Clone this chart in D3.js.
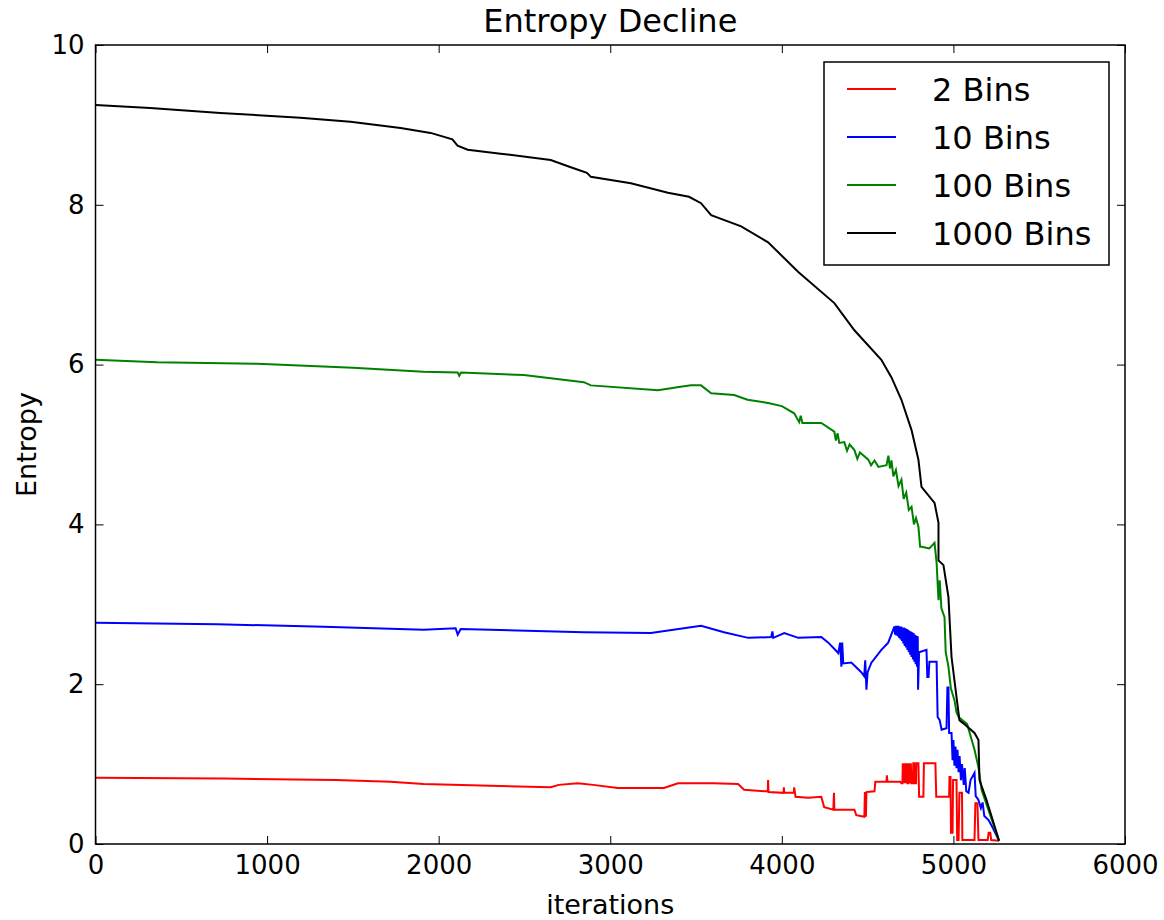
<!DOCTYPE html>
<html>
<head>
  <meta charset="utf-8">
  <title>Entropy Decline</title>
  <style>
    body { margin: 0; background: #fff; font-family: "DejaVu Sans", sans-serif; }
    .series { fill: none; stroke-width: 2; stroke-linejoin: miter; }
    .axis text { font-family: "DejaVu Sans", sans-serif; font-size: 26px; fill: #000; }
    .axis path { display: none; }
    .axis line { stroke: #000; stroke-width: 1; }
  </style>
</head>
<body>
<div id="chart"></div>
<script src="https://cdnjs.cloudflare.com/ajax/libs/d3/7.8.5/d3.min.js"></script>
<script>
// series values: [iteration, entropy]
var bins2 = [[0,0.83],[745,0.82],[1400,0.80],[1719,0.78],[1912,0.75],[2300,0.73],[2654,0.71],[2700,0.74],[2811,0.76],[2900,0.74],
  [3044,0.70],[3313,0.70],[3395,0.76],[3600,0.76],[3745,0.75],[3780,0.68],[3900,0.66],[3918,0.66],[3920,0.80],[3922,0.65],
  [4010,0.64],[4012,0.71],[4014,0.64],[4070,0.64],[4072,0.71],[4080,0.59],[4154,0.58],[4230,0.59],[4247,0.46],[4300,0.43],
  [4304,0.64],[4306,0.43],[4423,0.43],[4434,0.36],[4481,0.34],[4484,0.65],[4486,0.34],[4488,0.65],[4490,0.34],[4493,0.65],
  [4540,0.66],[4545,0.78],[4610,0.78],[4612,0.86],[4616,0.78],[4690,0.78],[4697,0.76],[4703,0.76],[4705,1.01],[4708,0.76],
  [4711,1.01],[4714,0.76],[4717,1.01],[4720,0.76],[4723,1.01],[4726,0.76],[4729,1.01],[4732,0.76],[4738,0.76],[4740,1.01],
  [4743,0.76],[4746,1.01],[4749,0.76],[4752,1.01],[4755,0.76],[4764,0.76],[4766,1.01],[4772,1.01],[4774,0.76],[4782,0.76],
  [4784,1.01],[4796,1.01],[4800,0.59],[4825,0.59],[4828,1.01],[4895,1.01],
  [4900,0.59],[4975,0.59],[4977,0.84],[4983,0.84],[4986,0.14],[4995,0.14],[4998,0.80],[5018,0.80],[5022,0.05],[5030,0.05],
  [5035,0.64],[5050,0.64],[5052,0.05],[5123,0.05],[5128,0.51],[5140,0.51],[5146,0.05],[5200,0.05],[5205,0.14],[5215,0.14],
  [5220,0.05],[5266,0.04]];

var bins10 = [[0,2.77],[709,2.75],[1330,2.72],[1912,2.68],[2099,2.70],[2111,2.62],[2128,2.69],[2846,2.65],[3237,2.64],[3529,2.73],
  [3663,2.65],[3804,2.58],[3938,2.59],[3945,2.66],[3950,2.58],[4014,2.64],[4096,2.58],[4230,2.59],[4271,2.52],[4329,2.39],
  [4340,2.52],[4347,2.22],[4352,2.52],[4358,2.26],[4405,2.27],[4463,2.15],[4480,2.10],[4486,2.30],[4493,1.93],[4500,2.15],
  [4522,2.27],[4580,2.43],[4620,2.52],[4656,2.72],[4660,2.62],[4664,2.73],[4668,2.61],[4672,2.73],[4676,2.60],[4680,2.73],
  [4684,2.58],[4688,2.72],[4692,2.56],[4696,2.72],[4700,2.54],[4704,2.71],[4708,2.51],[4712,2.71],[4716,2.48],[4720,2.70],
  [4724,2.46],[4728,2.69],[4732,2.43],[4736,2.68],[4740,2.40],[4744,2.67],[4748,2.37],[4752,2.66],[4756,2.34],[4760,2.65],
  [4764,2.31],[4768,2.64],[4772,2.28],[4776,2.62],[4780,2.25],[4784,2.61],[4788,2.22],[4792,2.60],[4794,1.93],[4800,2.40],
  [4843,2.43],[4848,2.09],[4855,2.09],[4860,2.28],[4902,2.28],[4908,1.59],[4920,1.55],[4931,1.43],[4960,1.45],[4965,1.96],
  [4971,1.96],[4975,1.39],[4989,1.39],[4995,1.05],[5000,1.30],[5006,0.98],[5012,1.22],[5018,0.95],[5024,1.18],[5030,0.90],
  [5036,1.10],[5044,0.80],[5050,1.00],[5060,0.74],[5066,0.95],[5075,0.66],[5088,0.64],[5100,0.80],[5123,0.89],[5130,0.60],
  [5146,0.55],[5160,0.45],[5170,0.52],[5180,0.35],[5205,0.30],[5230,0.20],[5266,0.04]];

var bins100 = [[0,6.06],[359,6.03],[943,6.01],[1500,5.96],[1912,5.91],[2111,5.90],[2120,5.86],[2130,5.90],[2496,5.87],[2846,5.78],
  [2887,5.74],[3278,5.68],[3400,5.72],[3471,5.74],[3529,5.74],[3588,5.64],[3722,5.62],[3800,5.56],[3920,5.52],[4000,5.48],
  [4072,5.39],[4101,5.28],[4110,5.36],[4120,5.27],[4230,5.27],[4306,5.16],[4315,5.05],[4325,5.14],[4335,5.02],[4364,5.03],
  [4380,4.92],[4395,5.00],[4423,4.93],[4440,4.82],[4455,4.90],[4504,4.81],[4520,4.74],[4540,4.80],[4563,4.72],[4610,4.74],
  [4621,4.86],[4630,4.70],[4639,4.80],[4650,4.60],[4665,4.68],[4680,4.48],[4697,4.56],[4710,4.32],[4725,4.40],[4740,4.18],
  [4756,4.22],[4770,4.00],[4782,4.08],[4796,3.97],[4806,3.72],[4814,3.72],[4860,3.70],[4890,3.77],[4902,3.52],[4913,3.05],
  [4920,3.30],[4930,2.95],[4948,2.84],[4955,2.40],[4971,2.22],[4985,1.95],[5006,1.80],[5018,1.65],[5030,1.59],[5080,1.50],
  [5123,1.18],[5146,0.96],[5164,0.68],[5200,0.45],[5266,0.04]];

var bins1000 = [[0,9.25],[318,9.21],[727,9.15],[1194,9.09],[1486,9.04],[1778,8.96],[1953,8.90],[2080,8.82],[2110,8.74],
  [2169,8.69],[2361,8.64],[2653,8.56],[2770,8.47],[2864,8.40],[2887,8.35],[3120,8.27],[3336,8.15],[3459,8.10],[3529,8.02],
  [3588,7.87],[3763,7.73],[3920,7.53],[4096,7.16],[4306,6.77],[4423,6.43],[4580,6.06],[4639,5.84],[4697,5.56],[4756,5.18],
  [4796,4.81],[4814,4.47],[4890,4.27],[4913,4.02],[4913,3.55],[4942,3.49],[4971,3.09],[4989,2.34],[5018,1.84],[5035,1.55],
  [5058,1.51],[5123,1.39],[5146,1.30],[5152,0.80],[5193,0.55],[5266,0.04]];

var seriesNames = ["2 Bins", "10 Bins", "100 Bins", "1000 Bins"];
var seriesColors = ["#ff0000", "#0000ff", "#008000", "#000000"];
var xTicks = [0, 1000, 2000, 3000, 4000, 5000, 6000];
var yTicks = [0, 2, 4, 6, 8, 10];

var width = 1164, height = 920;
var margin = { top: 45, right: 39, bottom: 76, left: 95.5 };

var svg = d3.select("#chart").append("svg")
  .attr("width", width)
  .attr("height", height);

var x = d3.scaleLinear().domain([0, 6000]).range([margin.left, width - margin.right]);
var y = d3.scaleLinear().domain([0, 10]).range([height - margin.bottom, margin.top]);

var line = d3.line()
  .x(function (d) { return x(d[0]); })
  .y(function (d) { return y(d[1]); });

// lines, drawn in matplotlib order
var allSeries = [bins2, bins10, bins100, bins1000];
svg.append("g").selectAll("path")
  .data(allSeries)
  .enter().append("path")
  .attr("class", "series")
  .attr("d", line)
  .style("stroke", function (d, i) { return seriesColors[i]; });

// axes, ticks pointing inwards on all four sides
var fmt = d3.format("d");
svg.append("g").attr("class", "axis")
  .attr("transform", "translate(0," + y(0) + ")")
  .call(d3.axisBottom(x).tickValues(xTicks).tickFormat(fmt).tickSizeInner(-8).tickSizeOuter(0).tickPadding(12));
svg.append("g").attr("class", "axis")
  .attr("transform", "translate(0," + y(10) + ")")
  .call(d3.axisTop(x).tickValues(xTicks).tickSizeInner(-8).tickSizeOuter(0).tickFormat(""));
svg.append("g").attr("class", "axis")
  .attr("transform", "translate(" + x(0) + ",0)")
  .call(d3.axisLeft(y).tickValues(yTicks).tickFormat(fmt).tickSizeInner(-8).tickSizeOuter(0).tickPadding(11));
svg.append("g").attr("class", "axis")
  .attr("transform", "translate(" + x(6000) + ",0)")
  .call(d3.axisRight(y).tickValues(yTicks).tickSizeInner(-8).tickSizeOuter(0).tickFormat(""));

// frame
svg.append("rect")
  .attr("x", x(0)).attr("y", y(10))
  .attr("width", x(6000) - x(0)).attr("height", y(0) - y(10))
  .style("fill", "none").style("stroke", "#000").style("stroke-width", 1.5);

// titles
svg.append("text")
  .attr("x", (x(0) + x(6000)) / 2).attr("y", 32)
  .attr("text-anchor", "middle")
  .style("font-size", "32px")
  .text("Entropy Decline");

svg.append("text")
  .attr("x", (x(0) + x(6000)) / 2).attr("y", 914)
  .attr("text-anchor", "middle")
  .style("font-size", "27px")
  .text("iterations");

svg.append("text")
  .attr("transform", "translate(36," + y(5) + ") rotate(-90)")
  .attr("text-anchor", "middle")
  .style("font-size", "27px")
  .text("Entropy");

// legend
var legend = svg.append("g").attr("transform", "translate(824,62)");
legend.append("rect")
  .attr("width", 285).attr("height", 203)
  .style("fill", "#fff").style("stroke", "#000").style("stroke-width", 1.5);

var item = legend.selectAll(".item")
  .data(seriesNames)
  .enter().append("g")
  .attr("class", "item")
  .attr("transform", function (d, i) { return "translate(0," + (27 + i * 48) + ")"; });

item.append("line")
  .attr("x1", 23).attr("x2", 72)
  .style("stroke", function (d, i) { return seriesColors[i]; })
  .style("stroke-width", 2);

item.append("text")
  .attr("x", 108).attr("dy", "0.36em")
  .style("font-size", "32px")
  .text(function (d) { return d; });
</script>
</body>
</html>
